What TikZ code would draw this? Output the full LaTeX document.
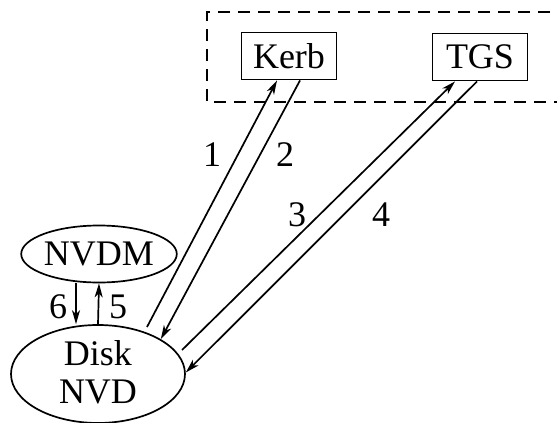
\documentclass[tikz,border=0pt]{standalone}
\usepackage{fontspec}
\setmainfont{Liberation Serif}
\usetikzlibrary{arrows.meta,shapes.geometric}
\begin{document}
\begin{tikzpicture}[x=1pt,y=-1pt,
  every node/.style={font=\fontsize{36}{38}\selectfont},
  boxnode/.style={draw,line width=1.9pt,minimum width=95pt,minimum height=47pt,inner sep=0pt},
  ellnode/.style={draw,ellipse,line width=1.7pt,inner sep=0pt,align=center},
  lbl/.style={inner sep=0pt},
  conn/.style={line width=1.7pt,-{Stealth[length=14pt,width=8pt,inset=4pt]}}]
\useasboundingbox (0,0) rectangle (557,423);
\clip (0,0) rectangle (557,423);
\draw[line width=1.7pt,dash pattern=on 12pt off 8pt] (570,12) -- (207,12) -- (207,102) -- (570,102);
\node[boxnode] (kerb) at (289,56) {Kerb};
\node[boxnode] (tgs) at (480,57) {TGS};
\node[ellnode,minimum width=148pt,minimum height=57pt] (nvdm) at (99,254) {NVDM};
\node[ellnode,minimum width=174pt,minimum height=98pt] (disk) at (98,374) {};
\node[font=\fontsize{36}{38}\selectfont,align=center,inner sep=0pt] (disktext) at ([yshift=2pt]disk.center) {Disk\\NVD};
% 1 and 2
\coordinate (d1) at (147,327);
\draw[conn] (d1) -- ([xshift=-12pt]kerb.south);
\draw[conn] ([xshift=11pt]kerb.south) -- (disk.29);
% 3 and 4
\coordinate (d3) at (182,350);
\draw[conn] (d3) -- ([xshift=-25pt]tgs.south);
\draw[conn] ([xshift=-3pt]tgs.south) -- (disk.1);
% 5 and 6
\draw[conn] ([xshift=-23pt]nvdm.south) -- ([xshift=-22pt]disk.north);
\draw[conn] (disk.north) -- (nvdm.south);
\node[lbl] (l1) at (212,155) {1};
\node[lbl] (l2) at (285,155) {2};
\node[lbl] (l3) at (297,215) {3};
\node[lbl] (l4) at (381,215) {4};
\node[lbl] (l6) at (58,307) {6};
\node[lbl] (l5) at (118,307) {5};
\end{tikzpicture}
\end{document}
